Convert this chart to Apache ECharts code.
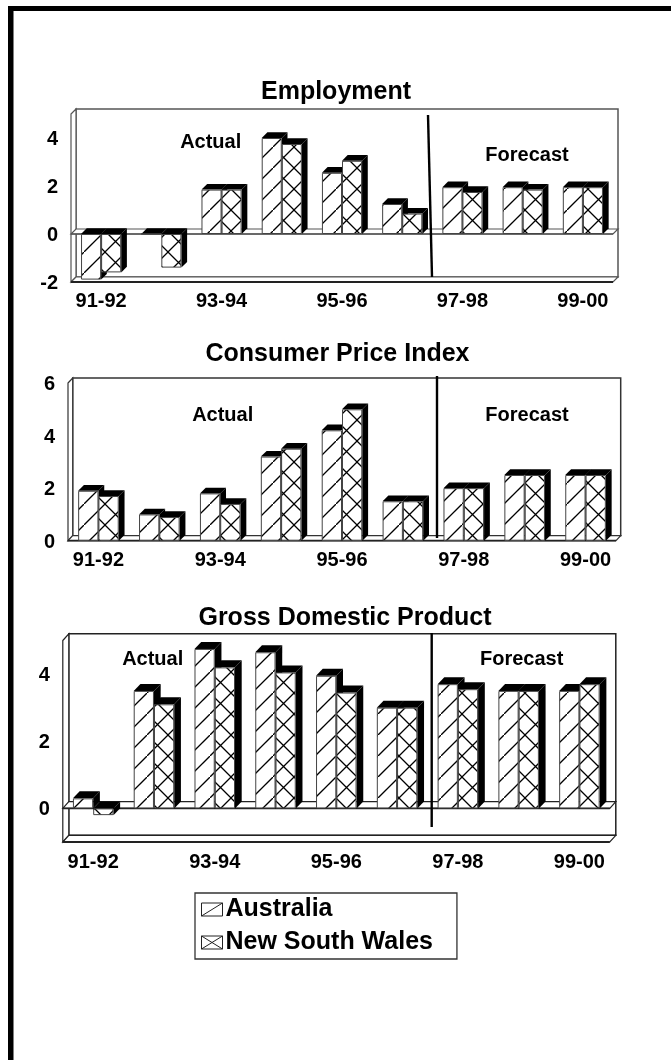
<!DOCTYPE html>
<html><head><meta charset="utf-8">
<style>html,body{margin:0;padding:0;background:#fff}#c{width:671px;height:1060px}</style>
<script src="https://cdn.jsdelivr.net/npm/echarts@6/dist/echarts.min.js"></script>
</head><body><div id="c"></div>
<script>
const categories = ['91-92','92-93','93-94','94-95','95-96','96-97','97-98','98-99','99-00'];
const seriesNames = ['Australia','New South Wales'];
const employmentAus = [-1.9,0,1.85,4.0,2.55,1.25,1.95,1.95,1.95];
const employmentNsw = [-1.6,-1.4,1.85,3.75,3.05,0.85,1.75,1.85,1.95];
const cpiAus = [1.9,1.0,1.8,3.2,4.2,1.5,2.0,2.5,2.5];
const cpiNsw = [1.7,0.9,1.4,3.5,5.0,1.5,2.0,2.5,2.5];
const gdpAus = [0.3,3.5,4.75,4.65,3.95,3.0,3.7,3.5,3.5];
const gdpNsw = [-0.2,3.1,4.2,4.05,3.45,3.0,3.55,3.5,3.7];

const FONT = '"Liberation Sans", Arial, sans-serif';
function tile(cross){
  const c = document.createElement('canvas'); c.width = c.height = 21;
  const g = c.getContext('2d');
  g.fillStyle = '#fff'; g.fillRect(0,0,21,21);
  g.strokeStyle = '#000'; g.lineWidth = 1.3;
  g.beginPath(); g.moveTo(-2,23); g.lineTo(23,-2);
  if(cross){ g.moveTo(-2,-2); g.lineTo(23,23); }
  g.stroke();
  return c;
}
const hatch = {image: tile(false), repeat:'repeat'};
const xhatch = {image: tile(true), repeat:'repeat'};

const panels = [
 {title:'Employment', tx:336, ty:92.5, l:71, w:542, t:114, h:168, min:-2, max:5, interval:1, show:[-2,0,2,4], a:employmentAus, b:employmentNsw, dx:5, dy:5, bx:5.7, by:5.7, line:'#555', m:9,
  div:[428,115,432,277], actual:[210.7,142], forecast:[527,155]},
 {title:'Consumer Price Index', tx:337.5, ty:354, l:68, w:548, t:383, h:157.7, min:0, max:6, interval:2, show:[0,2,4,6], a:cpiAus, b:cpiNsw, dx:4.7, dy:5, bx:5.8, by:5.7, line:'#333', m:10,
  div:[437,376,437,538], actual:[222.7,415], forecast:[527,415]},
 {title:'Gross Domestic Product', tx:345, ty:618, l:62.8, w:547, t:640.5, h:201.5, min:-1, max:5, interval:1, show:[0,2,4], a:gdpAus, b:gdpNsw, dx:6, dy:6.7, bx:6.7, by:7, line:'#222', m:10,
  div:[431.7,633,431.7,827], actual:[152.7,659], forecast:[521.7,659]}
];

function poly(pts, fill, stroke, lw){
  return {type:'polygon', shape:{points:pts}, style:{fill:fill, stroke:stroke||null, lineWidth:lw||0}};
}
function frameItem(p){
  return function(params, api){
    const cs = params.coordSys, x0=cs.x, x1=cs.x+cs.width, yT=cs.y, yB=cs.y+cs.height, dx=p.dx, dy=p.dy;
    const kids = [
      poly([[x0+dx,yT-dy],[x1+dx,yT-dy],[x1+dx,yB-dy],[x0+dx,yB-dy]],'#fff',p.line,1.5),
      poly([[x0,yT],[x0+dx,yT-dy],[x0+dx,yB-dy],[x0,yB]],'#fff',p.line,1.2),
      poly([[x0,yB],[x0+dx,yB-dy],[x1+dx,yB-dy],[x1,yB]],'#fff',p.line,1.2),
      {type:'line',shape:{x1:x0,y1:yB,x2:x1,y2:yB},style:{stroke:'#222',lineWidth:1.8}}
    ];
    if(p.min<0){
      const y0 = api.coord([0,0])[1];
      kids.push(poly([[x0,y0],[x0+dx,y0-dy],[x1+dx,y0-dy],[x1,y0]],'#fff',p.line,1.2));
      kids.push({type:'line',shape:{x1:x0,y1:y0,x2:x1,y2:y0},style:{stroke:p.line,lineWidth:1.6}});
    }
    return {type:'group',children:kids};
  };
}
function depthItem(p, offset){
  return function(params, api){
    const c = api.value(0), v = api.value(1);
    const band = api.size([1,0])[0], bw = band/3;
    const xc = api.coord([c,0])[0];
    const xL = xc + offset*bw, xR = xL + bw;
    const y0 = api.coord([c,0])[1], yV = api.coord([c,v])[1];
    const top = Math.min(y0,yV), bot = Math.max(y0,yV), dx=p.bx, dy=p.by;
    return {type:'group',children:[
      poly([[xL,top],[xL+dx,top-dy],[xR+dx,top-dy],[xR,top]],'#000'),
      poly([[xR,top],[xR+dx,top-dy],[xR+dx,bot-dy],[xR,bot]],'#000')
    ]};
  };
}
const grid=[], xAxis=[], yAxis=[], series=[], title=[], graphic=[];
panels.forEach((p,i)=>{
  grid.push({left:p.l, top:p.t, width:p.w, height:p.h, containLabel:false});
  xAxis.push({type:'category', gridIndex:i, data:categories, position:'bottom',
    axisLine:{show:false,onZero:false}, axisTick:{show:false},
    axisLabel:{interval:1, margin:p.m, color:'#000', fontFamily:FONT, fontWeight:'bold', fontSize:20, hideOverlap:false}});
  yAxis.push({type:'value', gridIndex:i, min:p.min, max:p.max, interval:p.interval,
    axisLine:{show:false}, axisTick:{show:false}, splitLine:{show:false},
    axisLabel:{margin:13, color:'#000', fontFamily:FONT, fontWeight:'bold', fontSize:20,
      showMinLabel:true, showMaxLabel:true,
      rich:{a:{color:'#000', fontFamily:FONT, fontWeight:'bold', fontSize:20, padding:[3,0,0,0]}},
      formatter:(v)=>p.show.indexOf(v)>=0?'{a|'+v+'}':''}});
  title.push({text:p.title, left:p.tx, top:p.ty, padding:0, textAlign:'center', textVerticalAlign:'middle',
    textStyle:{fontFamily:FONT, fontWeight:'bold', fontSize:25, color:'#000'}});
  series.push({type:'custom', name:'frame'+i, xAxisIndex:i, yAxisIndex:i, z:1, silent:true, clip:false,
    data:[[0,0]], renderItem:frameItem(p), legendHoverLink:false});
  series.push({type:'custom', name:seriesNames[0]+' depth '+i, xAxisIndex:i, yAxisIndex:i, z:2, silent:true, clip:false,
    data:p.a.map((v,k)=>[k,v]), encode:{x:0,y:1}, renderItem:depthItem(p,-1)});
  series.push({type:'custom', name:seriesNames[1]+' depth '+i, xAxisIndex:i, yAxisIndex:i, z:2, silent:true, clip:false,
    data:p.b.map((v,k)=>[k,v]), encode:{x:0,y:1}, renderItem:depthItem(p,0)});
  series.push({type:'bar', name:seriesNames[0], xAxisIndex:i, yAxisIndex:i, z:3, silent:true,
    data:p.a, barWidth:'33.33%', barGap:0, animation:false,
    itemStyle:{color:hatch, borderColor:'#444', borderWidth:1}});
  series.push({type:'bar', name:seriesNames[1], xAxisIndex:i, yAxisIndex:i, z:3, silent:true,
    data:p.b, barWidth:'33.33%', barGap:0, animation:false,
    itemStyle:{color:xhatch, borderColor:'#444', borderWidth:1}});
  graphic.push({type:'line', z:10, shape:{x1:p.div[0],y1:p.div[1],x2:p.div[2],y2:p.div[3]}, style:{stroke:'#000',lineWidth:2.4}});
  [['Actual',p.actual],['Forecast',p.forecast]].forEach(([s,pos])=>{
    graphic.push({type:'text', z:10, x:pos[0], y:pos[1],
      style:{text:s, fill:'#000', font:'bold 20px '+FONT, textAlign:'center', textVerticalAlign:'middle'}});
  });
});
// page border
graphic.push({type:'rect', z:0, shape:{x:8,y:6,width:5.5,height:1054}, style:{fill:'#000'}});
graphic.push({type:'rect', z:0, shape:{x:8,y:6,width:663,height:5}, style:{fill:'#000'}});

const chart = echarts.init(document.getElementById('c'), null, {renderer:'canvas', width:671, height:1060});
chart.setOption({
  animation:false, backgroundColor:'#fff',
  title, grid, xAxis, yAxis, series, graphic,
  tooltip:{show:false},
  legend:{orient:'vertical', left:195, top:893, padding:[0,24,0,6], itemGap:0, itemWidth:21, itemHeight:13, selectedMode:false,
    backgroundColor:'#fff', borderColor:'#333', borderWidth:1.3,
    textStyle:{fontFamily:FONT, fontWeight:'bold', fontSize:25, color:'#000', lineHeight:29, padding:[4,0,0,-2]},
    data:[
      {name:seriesNames[0], icon:'path://M0 0H21V13H0ZM0 13L21 0', itemStyle:{color:'#fff',borderColor:'#222',borderWidth:1}},
      {name:seriesNames[1], icon:'path://M0 0H21V13H0ZM0 13L21 0M0 0L21 13', itemStyle:{color:'#fff',borderColor:'#222',borderWidth:1}}
    ]}
});
</script></body></html>
